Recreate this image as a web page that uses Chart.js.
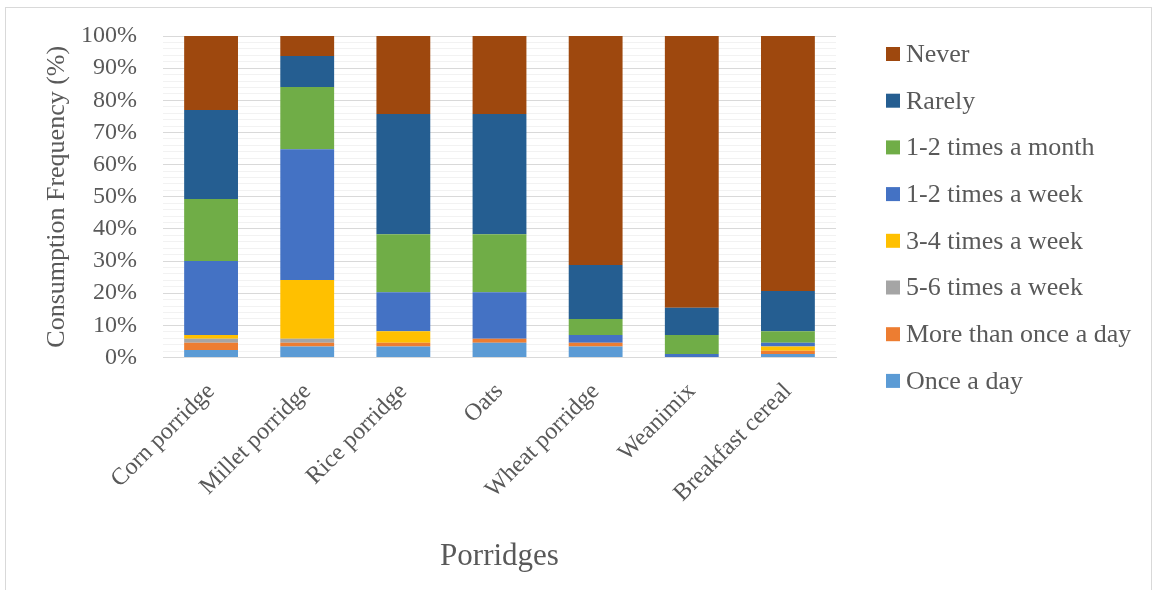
<!DOCTYPE html>
<html>
<head>
<meta charset="utf-8">
<script src="https://cdn.jsdelivr.net/npm/chart.js@4/dist/chart.umd.min.js"></script>
<style>
  html, body { margin: 0; padding: 0; background: #fff; }
  #wrap { position: relative; width: 1155px; height: 590px; overflow: hidden; }
  #frame { position: absolute; left: 5px; top: 7px; width: 1147px; height: 600px; border: 1px solid #d9d9d9; box-sizing: border-box; }
  #chart { position: absolute; left: 0; top: 0; }
</style>
</head>
<body>
<div id="wrap">
  <div id="frame"></div>
  <canvas id="chart" width="1155" height="590"></canvas>
</div>
<script>
// Porridge consumption frequency (% of respondents), stacked bottom to top
const categories = ['Corn porridge', 'Millet porridge', 'Rice porridge', 'Oats', 'Wheat porridge', 'Weanimix', 'Breakfast cereal'];

const onceADay         = [2.3, 3.4, 3.4, 4.6, 3.4, 0, 1.1];
const moreThanOnceADay = [2.3, 1.2, 1.2, 1.2, 1.2, 0, 1.0];
const fiveSixWeek      = [1.2, 1.2, 0, 0, 0, 0, 0];
const threeFourWeek    = [1.2, 18.3, 3.6, 0, 0, 0, 1.3];
const oneTwoWeek       = [23.0, 40.7, 12.1, 14.5, 2.4, 1.1, 1.2];
const oneTwoMonth      = [19.3, 19.3, 18.0, 18.0, 5.0, 5.9, 3.6];
const rarely           = [27.7, 9.7, 37.4, 37.4, 16.8, 8.5, 12.5];
const never            = [23.0, 6.2, 24.3, 24.3, 71.2, 84.5, 79.3];

const FONT = "'Liberation Serif', 'Times New Roman', serif";
const TEXT = '#595959';

const series = [
  { label: 'Once a day', data: onceADay, color: '#5B9BD5' },
  { label: 'More than once a day', data: moreThanOnceADay, color: '#ED7D31' },
  { label: '5-6 times a week', data: fiveSixWeek, color: '#A5A5A5' },
  { label: '3-4 times a week', data: threeFourWeek, color: '#FFC000' },
  { label: '1-2 times a week', data: oneTwoWeek, color: '#4472C4' },
  { label: '1-2 times a month', data: oneTwoMonth, color: '#70AD47' },
  { label: 'Rarely', data: rarely, color: '#255E91' },
  { label: 'Never', data: never, color: '#9E480E' },
];

// Legend on the right, top item = last stacked series
const sideLegend = {
  id: 'sideLegend',
  afterDraw(chart) {
    const { ctx, chartArea } = chart;
    const items = chart.data.datasets.slice().reverse();
    const x = chartArea.right + 50;
    ctx.save();
    ctx.font = '26px ' + FONT;
    ctx.textBaseline = 'middle';
    ctx.textAlign = 'left';
    items.forEach((ds, i) => {
      const y = chartArea.top + 18 + i * 46.7;
      ctx.fillStyle = ds.backgroundColor;
      ctx.fillRect(x, y - 7, 14, 14);
      ctx.fillStyle = TEXT;
      ctx.fillText(ds.label, x + 20, y + 1);
    });
    ctx.restore();
  }
};

new Chart(document.getElementById('chart'), {
  type: 'bar',
  data: {
    labels: categories,
    datasets: series.map(s => ({
      label: s.label,
      data: s.data,
      backgroundColor: s.color,
      borderWidth: 0,
      barPercentage: 0.56,
      categoryPercentage: 1,
    })),
  },
  options: {
    responsive: false,
    animation: false,
    layout: { padding: { left: 0, right: 319, top: 36, bottom: 0 } },
    plugins: {
      legend: { display: false },
      tooltip: { enabled: false },
    },
    scales: {
      x: {
        stacked: true,
        grid: { display: false },
        border: { display: true, color: '#d9d9d9' },
        ticks: {
          color: TEXT,
          font: { family: FONT, size: 24 },
          minRotation: 45,
          maxRotation: 45,
          padding: 12,
        },
        title: {
          display: true,
          text: 'Porridges',
          color: TEXT,
          font: { family: FONT, size: 31 },
          padding: { top: 0, bottom: 15 },
        },
        afterFit: (scale) => { scale.height = 232.5; },
      },
      y: {
        stacked: true,
        min: 0,
        max: 100,
        border: { display: false },
        grid: {
          drawTicks: true,
          tickLength: 26,
          tickColor: 'transparent',
          color: (c) => (c.tick && c.tick.value % 10 === 0) ? '#d9d9d9' : '#f2f2f2',
        },
        ticks: {
          stepSize: 2,
          autoSkip: false,
          padding: 0,
          color: TEXT,
          font: { family: FONT, size: 24 },
          callback: (v) => v % 10 === 0 ? v + '%' : '',
        },
        title: {
          display: true,
          text: 'Consumption Frequency (%)',
          color: TEXT,
          font: { family: FONT, size: 26 },
          padding: { top: 42, bottom: 0 },
        },
        afterFit: (scale) => { scale.width = 163; },
      },
    },
  },
  plugins: [sideLegend],
});
</script>
</body>
</html>
